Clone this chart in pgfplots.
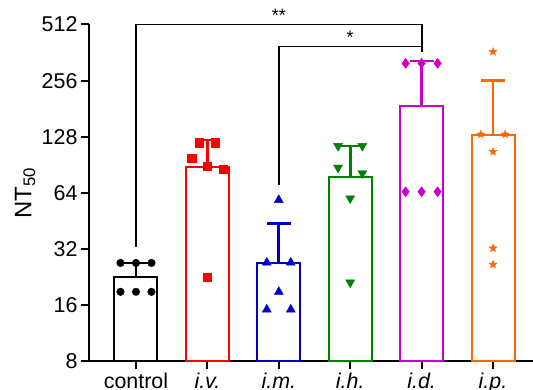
\documentclass[border=0pt]{standalone}
\usepackage{pgfplots}
\pgfplotsset{compat=1.18}
\usepackage{fontspec}
\setmainfont{Liberation Sans}
\definecolor{cR}{RGB}{255,0,0}
\definecolor{cB}{RGB}{0,0,200}
\definecolor{cG}{RGB}{0,128,0}
\definecolor{cM}{RGB}{200,0,200}
\definecolor{cO}{RGB}{255,102,0}
\pgfdeclareplotmark{fstar}{%
  \pgfpathmoveto{\pgfpointpolar{90}{\pgfplotmarksize}}%
  \pgfpathlineto{\pgfpointpolar{126}{0.42\pgfplotmarksize}}%
  \pgfpathlineto{\pgfpointpolar{162}{\pgfplotmarksize}}%
  \pgfpathlineto{\pgfpointpolar{198}{0.42\pgfplotmarksize}}%
  \pgfpathlineto{\pgfpointpolar{234}{\pgfplotmarksize}}%
  \pgfpathlineto{\pgfpointpolar{270}{0.42\pgfplotmarksize}}%
  \pgfpathlineto{\pgfpointpolar{306}{\pgfplotmarksize}}%
  \pgfpathlineto{\pgfpointpolar{342}{0.42\pgfplotmarksize}}%
  \pgfpathlineto{\pgfpointpolar{18}{\pgfplotmarksize}}%
  \pgfpathlineto{\pgfpointpolar{54}{0.42\pgfplotmarksize}}%
  \pgfpathclose
  \pgfusepathqfillstroke}
\begin{document}
\begin{tikzpicture}
\begin{axis}[
  scale only axis, width=444bp, height=337bp,
  xmin=-0.658, xmax=5.56,
  ymode=log, log basis y=2, ymin=8, ymax=512,
  log origin y=infty,
  ytick={8,16,32,64,128,256,512},
  yticklabels={\mbox{8},\mbox{16},\mbox{32},\mbox{64},\mbox{128},\mbox{256},\mbox{512}},
  xtick={0,1,2,3,4,5},
  xticklabels={control,\textit{i.v.},\textit{i.m.},\textit{i.h.},\textit{i.d.},\textit{i.p.}},
  axis x line=bottom, axis y line=left,
  axis line style={-, line width=2bp, black},
  tick style={line width=2bp, black},
  tick align=outside,
  major tick length=8bp,
  minor tick num=0,
  ticklabel style={font=\fontsize{21.5}{24}\selectfont},
  ylabel={NT\textsubscript{50}},
  ylabel style={font=\fontsize{24}{26}\selectfont, at={(rel axis cs:-0.1441,0.5)}, anchor=center},
  clip=false,
]
% bars
\addplot[ybar, bar shift=0pt, bar width=43bp, draw=black, fill=white, line width=2bp] coordinates {(0,22.6)};
\addplot[ybar, bar shift=0pt, bar width=43bp, draw=cR, fill=white, line width=2bp] coordinates {(1,87.9)};
\addplot[ybar, bar shift=0pt, bar width=43bp, draw=cB, fill=white, line width=2bp] coordinates {(2,26.9)};
\addplot[ybar, bar shift=0pt, bar width=43bp, draw=cG, fill=white, line width=2bp] coordinates {(3,77.7)};
\addplot[ybar, bar shift=0pt, bar width=43bp, draw=cM, fill=white, line width=2bp] coordinates {(4,187.3)};
\addplot[ybar, bar shift=0pt, bar width=43bp, draw=cO, fill=white, line width=2bp] coordinates {(5,130.9)};
% error bars
\addplot[black, line width=2.8bp, mark=none] coordinates {(0,22.6) (0,27.0)};
\addplot[black, only marks, mark=-, mark size=12bp, mark options={line width=2.8bp}] coordinates {(0,27.0)};
\addplot[cR, line width=2.8bp, mark=none] coordinates {(1,87.9) (1,123.1)};
\addplot[cR, only marks, mark=-, mark size=12bp, mark options={line width=2.8bp}] coordinates {(1,123.1)};
\addplot[cB, line width=2.8bp, mark=none] coordinates {(2,26.9) (2,44.0)};
\addplot[cB, only marks, mark=-, mark size=12bp, mark options={line width=2.8bp}] coordinates {(2,44.0)};
\addplot[cG, line width=2.8bp, mark=none] coordinates {(3,77.7) (3,114.3)};
\addplot[cG, only marks, mark=-, mark size=12bp, mark options={line width=2.8bp}] coordinates {(3,114.3)};
\addplot[cM, line width=2.8bp, mark=none] coordinates {(4,187.3) (4,326)};
\addplot[cM, only marks, mark=-, mark size=12bp, mark options={line width=2.8bp}] coordinates {(4,326)};
\addplot[cO, line width=2.8bp, mark=none] coordinates {(5,130.9) (5,257)};
\addplot[cO, only marks, mark=-, mark size=12bp, mark options={line width=2.8bp}] coordinates {(5,257)};
% points
\addplot[only marks, mark=*, mark size=3.8bp, black] coordinates {(-0.217,27.0) (0,27.0) (0.217,27.0) (-0.217,18.9) (0,18.9) (0.217,18.9)};
\addplot[only marks, mark=square*, mark size=4.2bp, cR] coordinates {(0.783,98.2) (0.888,119) (1.112,119) (1,89.3) (1.224,85.7) (1,22.6)};
\addplot[only marks, mark=triangle*, mark size=5.2bp, cB] coordinates {(2,58.7) (1.832,27.1) (2.168,27.1) (2,18.9) (1.832,15.2) (2.168,15.2)};
\addplot[only marks, mark=triangle*, mark size=5.2bp, cG, mark options={rotate=180}] coordinates {(2.83,114.3) (3.17,114.3) (2.83,87.4) (3.17,81.6) (3,59.9) (3,21.2)};
\addplot[only marks, mark=diamond*, mark size=5bp, cM] coordinates {(3.776,317) (4,317) (4.224,317) (3.776,65) (4,65) (4.224,65)};
\addplot[only marks, mark=fstar, mark size=4.2bp, cO] coordinates {(5,365.8) (4.83,132) (5.17,132) (5,106.5) (5,32.4) (5,26.5)};
% significance brackets
\addplot[black, line width=1.8bp, mark=none, line join=miter] coordinates {(0,33) (0,512) (4,512) (4,366)};
\addplot[black, line width=1.8bp, mark=none, line join=miter] coordinates {(2,70.6) (2,390) (4,390)};
\node[anchor=base, inner sep=0pt, font=\fontsize{18}{20}\selectfont] at (axis cs:2,530) {**};
\node[anchor=base, inner sep=0pt, font=\fontsize{18}{20}\selectfont] at (axis cs:3,404) {*};
\end{axis}
\pgfresetboundingbox
\path ([shift={(-89bp,-28.5bp)}]current axis.south west) rectangle ([shift={(0bp,24.5bp)}]current axis.north east);
\end{tikzpicture}
\end{document}
